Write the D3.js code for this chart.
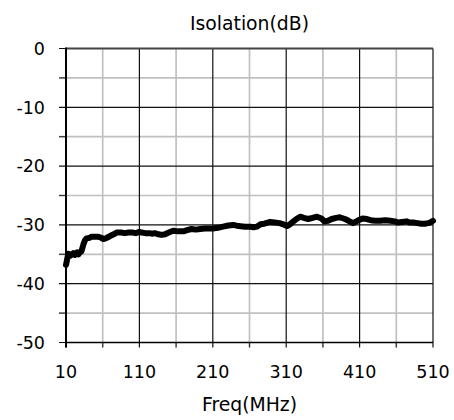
<!DOCTYPE html>
<html><head><meta charset="utf-8">
<script src="https://cdn.jsdelivr.net/npm/d3@7"></script>
<style>body{margin:0;background:#fff}svg{display:block}text{font-family:"DejaVu Sans",Verdana,sans-serif;fill:#000}</style>
</head><body>
<script>
const freq = [10,11,13,15,18,20,22,25,27,29,31,34,36,38,42,45,50,54,58,61,64,67,70,75,79,85,90,95,100,105,110,113,118,124,128,131,136,140,145,150,156,163,170,175,181,187,193,199,205,210,217,224,231,238,245,254,261,266,270,275,280,285,288,294,301,306,311,315,319,324,329,334,340,346,352,358,362,367,372,378,383,390,395,401,407,414,420,425,431,438,445,452,458,462,468,474,478,483,489,494,499,503,506,510];
const isolation = [-36.8,-36.2,-34.9,-35.3,-35.0,-34.8,-35.1,-34.7,-35.0,-34.6,-34.5,-33.2,-32.6,-32.3,-32.2,-32.0,-32.0,-32.0,-32.2,-32.4,-32.3,-32.1,-31.9,-31.6,-31.3,-31.3,-31.4,-31.3,-31.3,-31.4,-31.2,-31.3,-31.4,-31.4,-31.5,-31.4,-31.6,-31.7,-31.6,-31.3,-31.0,-31.1,-31.1,-30.9,-30.7,-30.8,-30.7,-30.6,-30.6,-30.6,-30.5,-30.3,-30.1,-30.0,-30.2,-30.3,-30.3,-30.4,-30.3,-29.9,-29.8,-29.6,-29.5,-29.6,-29.7,-29.9,-30.2,-29.9,-29.5,-29.0,-28.6,-28.8,-29.0,-28.8,-28.6,-28.9,-29.4,-29.3,-29.0,-28.8,-28.7,-29.0,-29.3,-29.7,-29.3,-28.9,-29.0,-29.2,-29.3,-29.3,-29.2,-29.3,-29.4,-29.6,-29.5,-29.4,-29.6,-29.6,-29.7,-29.8,-29.8,-29.7,-29.6,-29.3];
const xTickValues = [10,110,210,310,410,510];
const xMinorValues = [60,160,260,360,460];
const yTickValues = [0,-10,-20,-30,-40,-50];
const yMinorValues = [-5,-15,-25,-35,-45];
const titleText = "Isolation(dB)";
const xLabelText = "Freq(MHz)";

const W = 454, H = 420;
const m = {left:66, right:433, top:48.5, bottom:342.5};
const svg = d3.select("body").append("svg").attr("width",W).attr("height",H);
const x = d3.scaleLinear().domain([10,510]).range([m.left,m.right]);
const y = d3.scaleLinear().domain([-50,0]).range([m.bottom,m.top]);

// minor grid
svg.append("g").selectAll("line").data(xMinorValues).join("line")
  .attr("x1",d=>x(d)).attr("x2",d=>x(d)).attr("y1",m.top).attr("y2",m.bottom+5)
  .attr("stroke","#c0c0c0").attr("stroke-width",1.7);
svg.append("g").selectAll("line").data(yMinorValues).join("line")
  .attr("y1",d=>y(d)).attr("y2",d=>y(d)).attr("x1",m.left-7).attr("x2",m.right)
  .attr("stroke","#c0c0c0").attr("stroke-width",1.7);
// minor ticks
svg.append("g").selectAll("line").data(xMinorValues).join("line")
  .attr("x1",d=>x(d)).attr("x2",d=>x(d)).attr("y1",m.bottom).attr("y2",m.bottom+5)
  .attr("stroke","#333").attr("stroke-width",1.2);
svg.append("g").selectAll("line").data(yMinorValues).join("line")
  .attr("y1",d=>y(d)).attr("y2",d=>y(d)).attr("x1",m.left-7).attr("x2",m.left)
  .attr("stroke","#333").attr("stroke-width",1.2);
// major grid
svg.append("g").selectAll("line").data(xTickValues).join("line")
  .attr("x1",d=>x(d)).attr("x2",d=>x(d)).attr("y1",m.top).attr("y2",m.bottom+5)
  .attr("stroke","#111").attr("stroke-width",1.2);
svg.append("g").selectAll("line").data(yTickValues).join("line")
  .attr("y1",d=>y(d)).attr("y2",d=>y(d)).attr("x1",m.left-7).attr("x2",m.right)
  .attr("stroke","#111").attr("stroke-width",1.2);
// frame
svg.append("line").attr("x1",m.left).attr("x2",m.right).attr("y1",m.top).attr("y2",m.top).attr("stroke","#444").attr("stroke-width",2);
svg.append("line").attr("x1",m.left).attr("x2",m.left).attr("y1",m.top-1).attr("y2",m.bottom+5).attr("stroke","#000").attr("stroke-width",2);
svg.append("line").attr("x1",m.left).attr("x2",m.right).attr("y1",m.bottom).attr("y2",m.bottom).attr("stroke","#000").attr("stroke-width",1.5);

// line
svg.append("path").datum(freq.map((f,i)=>[f,isolation[i]]))
  .attr("d",d3.line().x(d=>x(d[0])).y(d=>y(d[1])).curve(d3.curveLinear))
  .attr("fill","none").attr("stroke","#000").attr("stroke-width",6).attr("stroke-linejoin","round").attr("stroke-linecap","round");

// labels
svg.append("g").selectAll("text").data(yTickValues).join("text")
  .attr("x",m.left-21).attr("y",d=>y(d)).attr("dy","0.36em").attr("text-anchor","end")
  .attr("font-size",17.5).text(d=>d);
svg.append("g").selectAll("text").data(xTickValues).join("text")
  .attr("x",d=>x(d)).attr("y",378).attr("text-anchor","middle")
  .attr("font-size",17.5).text(d=>d);
svg.append("text").attr("x",(m.left+m.right)/2).attr("y",30).attr("text-anchor","middle").attr("font-size",18.8).text(titleText);
svg.append("text").attr("x",(m.left+m.right)/2).attr("y",411).attr("text-anchor","middle").attr("font-size",18.8).text(xLabelText);
</script>
</body></html>
